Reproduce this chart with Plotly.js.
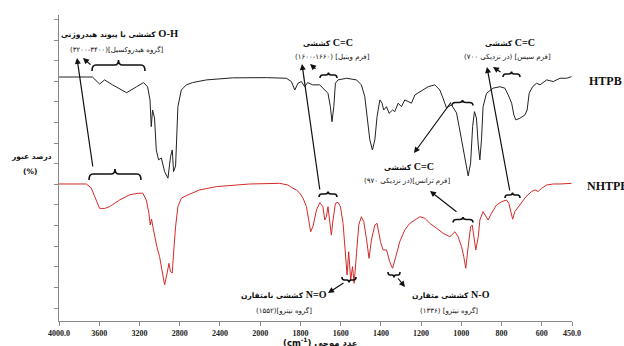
<!DOCTYPE html>
<html><head><meta charset="utf-8">
<script src="https://cdn.plot.ly/plotly-3.0.1.min.js"></script>
<style>html,body{margin:0;padding:0;background:#fff}</style>
</head><body>
<div id="chart" style="width:624px;height:346px"></div>
<script>
// ---- data (wavenumber cm-1, relative transmittance) ----
const wnHTPB = [4000,3667,3597,3547,3468,3328,3229,3159,3119,3095,3083,3070,3050,3033,3010,2983,2950,2917,2891,2874,2861,2841,2818,2784,2734,2672,2535,2274,1969,1870,1845,1828,1812,1795,1779,1764,1739,1704,1679,1663,1651,1643,1634,1626,1613,1571,1521,1497,1480,1467,1455,1442,1430,1419,1405,1394,1386,1372,1359,1342,1331,1314,1298,1281,1265,1248,1231,1206,1165,1132,1107,1091,1074,1049,1024,1011,999,983,966,954,944,935,925,916,908,900,892,875,842,808,784,767,750,739,729,709,684,673,663,646,626,609,576,543,510,477,452];
const tHTPB = [11.84,11.84,11.50,11.70,11.46,11.08,11.37,11.57,11.36,10.73,9.43,10.24,9.85,8.30,7.82,7.91,7.25,6.93,7.98,8.30,7.25,7.52,10.40,11.21,11.46,11.57,11.70,11.80,11.81,11.78,11.62,11.21,11.54,11.62,11.37,11.57,11.46,11.46,11.21,11.05,10.40,9.67,10.40,11.54,11.70,11.78,11.70,11.46,10.89,9.92,8.79,8.30,8.79,9.92,10.73,10.57,10.24,10.40,10.08,10.24,10.16,10.57,10.40,10.73,10.65,10.57,10.97,11.13,11.37,11.46,11.21,10.81,10.34,10.49,10.10,9.43,8.79,8.06,7.04,7.67,9.43,10.16,9.85,8.54,7.82,8.79,10.40,11.05,11.30,11.37,11.30,10.97,10.57,10.00,9.76,9.84,10.00,10.24,11.05,11.37,11.54,11.46,11.70,11.62,11.78,11.78,11.86];
const wnNHTPB = [4000,3729,3680,3630,3597,3547,3498,3398,3299,3216,3166,3132,3106,3093,3080,3067,3050,3027,3000,2973,2950,2927,2907,2891,2874,2861,2841,2818,2784,2718,2602,2436,2274,2104,1903,1862,1837,1820,1803,1787,1770,1757,1749,1737,1720,1704,1688,1679,1671,1663,1654,1646,1638,1626,1613,1601,1588,1580,1568,1560,1550,1541,1533,1521,1510,1497,1485,1472,1459,1447,1430,1419,1402,1389,1372,1356,1342,1326,1306,1281,1256,1231,1206,1182,1157,1123,1091,1057,1032,1016,999,988,978,966,954,946,938,928,916,908,892,867,850,825,800,775,764,754,745,734,717,700,679,651,634,618,601,576,543,510,469,452];
const tNHTPB = [6.65,6.65,6.46,5.87,5.47,5.46,5.55,5.87,6.12,6.20,6.20,5.87,5.23,4.66,4.95,4.58,4.13,3.61,3.12,2.32,1.75,2.28,2.80,2.39,2.33,3.30,4.58,5.55,5.96,6.12,6.36,6.52,6.60,6.65,6.68,6.60,6.44,6.36,6.20,5.96,5.55,4.82,4.33,4.61,5.39,5.74,5.55,4.90,5.06,5.55,4.90,4.17,4.90,5.71,5.76,5.55,4.74,3.61,2.23,3.36,1.99,2.64,1.83,3.29,4.66,5.06,4.82,4.01,3.04,3.93,4.66,4.74,3.85,3.45,3.45,2.88,2.56,3.12,3.85,4.42,4.74,4.90,5.06,4.99,4.74,4.50,4.26,4.09,4.33,4.09,3.61,3.12,2.56,3.61,4.58,4.66,4.09,3.45,4.09,4.90,5.31,4.90,5.23,5.63,5.79,5.87,5.71,5.23,4.94,5.31,5.55,5.79,6.03,6.28,6.36,6.28,6.44,6.60,6.65,6.65,6.68,6.68];
const tickWn = [4000,3600,3200,2800,2400,2000,1800,1600,1400,1200,1000,800,600,450];
const tickLabels = ['4000.0','3600','3200','2800','2400','2000','1800','1600','1400','1200','1000','800','600','450.0'];
const seriesNames = ['HTPB','NHTPB'];

// axis is compressed 2x above 2000 cm-1 (scale change in the spectrum)
function u(wn){ return wn <= 2000 ? wn : 2000 + (wn - 2000) / 2; }

const L = 59, R = 572, T = 15, B = 321;
const PX = x => (x - L) / (R - L);
const PY = y => (B - y) / (B - T);
const rtl = s => '\u202B' + s + '\u202C';
const lat = (s, sz) => '<span style="font-family:Liberation Serif;font-size:' + sz + 'px">' + s + '</span>';

const traces = [
  {x: wnHTPB.map(u), y: tHTPB, mode: 'lines', line: {color: '#222', width: 1}, name: seriesNames[0], hoverinfo: 'skip'},
  {x: wnNHTPB.map(u), y: tNHTPB, mode: 'lines', line: {color: '#d42a2a', width: 1}, name: seriesNames[1], hoverinfo: 'skip'}
];

const fa = 'DejaVu Sans';
function txt(x, y, s, size, bold, anchor, fam){
  return {xref:'paper', yref:'paper', x: PX(x), y: PY(y), text: s, showarrow:false,
    xanchor: anchor || 'center', yanchor:'middle',
    font:{family: fam || fa, size: size, color:'#111', weight: bold ? 'bold' : 'normal'}};
}
function arrow(hx, hy, tx, ty){
  return {xref:'paper', yref:'paper', x: PX(hx), y: PY(hy), text:'', showarrow:true,
    ax: tx - hx, ay: ty - hy, arrowhead:2, arrowsize:1, arrowwidth:1.2, arrowcolor:'#111', standoff:0, startstandoff:0};
}
function brace(x0, x1, y, tip, end){
  const xm = (x0 + x1) / 2, q = Math.min(4, (x1 - x0) / 6);
  const P = (x, yy) => PX(x) + ',' + PY(yy);
  const path = 'M' + P(x0, y + end) + ' Q' + P(x0, y) + ' ' + P(x0 + q, y) +
    ' L' + P(xm - q, y) + ' Q' + P(xm, y) + ' ' + P(xm, y + tip) +
    ' Q' + P(xm, y) + ' ' + P(xm + q, y) + ' L' + P(x1 - q, y) +
    ' Q' + P(x1, y) + ' ' + P(x1, y + end);
  return {type:'path', xref:'paper', yref:'paper', path: path, line:{color:'#111', width:1.6}};
}

const annotations = [
  txt(119, 33, rtl(lat('O-H', 10.5) + ' کششی با پیوند هیدروژنی'), 7.5, true),
  txt(117, 49, rtl('[گروه هیدروکسیل](۳۴۰۰-۳۲۰۰)'), 7, false),
  txt(328, 42, rtl(lat('C=C', 10) + ' کششی'), 7.5, true),
  txt(332, 57, rtl('[فرم وینیل] (۱۶۶۰-۱۶۰۰)'), 7, false),
  txt(510, 42, rtl(lat('C=C', 10) + ' کششی'), 7.5, true),
  txt(507, 57, rtl('[فرم سیس] (در نزدیکی ۷۰۰)'), 7, false),
  txt(409, 166, rtl(lat('C=C', 10) + ' کششی'), 7.5, true),
  txt(407, 181, rtl('[فرم ترانس](در نزدیکی ۹۷۰)'), 7, false),
  txt(284, 294, rtl(lat('N=O', 10) + ' کششی نامتقارن'), 7.5, true),
  txt(284, 310, rtl('[گروه نیترو](۱۵۵۲)'), 7, false),
  txt(451, 294, rtl(lat('N-O', 10) + ' کششی متقارن'), 7.5, true),
  txt(449, 310, rtl('[گروه نیترو] (۱۳۳۶)'), 7, false),
  txt(587, 81, seriesNames[0], 12, true, 'left', 'Liberation Serif'),
  txt(585, 186, seriesNames[1], 12, true, 'left', 'Liberation Serif'),
  txt(31, 156, 'درصد عبور', 7.5, true),
  txt(30, 171, '(%)', 7.5, true),
  txt(320, 342, rtl('عدد موجی (cm<sup>-1</sup>)'), 8.5, true),
  arrow(77, 58, 93, 168),
  arrow(83, 58, 92, 66),
  arrow(302, 64, 320, 191),
  arrow(310, 64, 317, 70),
  arrow(414, 153, 452, 101),
  arrow(430, 191, 458, 213),
  arrow(487, 67, 510, 192),
  arrow(493, 67, 502, 73),
  arrow(328, 293, 345, 282),
  arrow(405, 287, 397, 277)
];

const shapes = [
  brace(92, 145, 65, -5, 6),
  brace(89, 141, 174, -5, 6),
  brace(320, 337, 75, -2.5, 3),
  brace(319, 337, 194, -2.5, 3),
  brace(452, 473, 102.5, -2.5, 3),
  brace(503, 520, 74, -2.5, 3),
  brace(453, 473, 219.5, -2.5, 3),
  brace(505, 520, 195, -2.5, 3),
  brace(342, 356, 280, 2.5, -3),
  brace(388, 400, 275, 2.5, -3)
];

const yT = [];
for (let v = 0.63; v < 14.9; v += 1) yT.push(+v.toFixed(2));

const layout = {
  width: 624, height: 346,
  margin: {l: L, r: 624 - R, t: T, b: 346 - B},
  paper_bgcolor: '#fff', plot_bgcolor: '#fff',
  showlegend: false,
  xaxis: {range: [u(4000), 450], tickvals: tickWn.map(u), ticktext: tickLabels,
    showline: true, linecolor: '#888', linewidth: 1, ticks: 'outside', ticklen: 4, tickcolor: '#888',
    showgrid: false, zeroline: false, tickfont: {family: 'Liberation Serif', size: 8, color: '#222', weight: 'bold'}},
  yaxis: {range: [0, 14.85], tickvals: yT, showticklabels: false,
    showline: true, linecolor: '#888', linewidth: 1, ticks: 'outside', ticklen: 4, tickcolor: '#888',
    showgrid: false, zeroline: false},
  annotations: annotations,
  shapes: shapes
};
Plotly.newPlot('chart', traces, layout, {staticPlot: true, displayModeBar: false});
</script>
</body></html>
